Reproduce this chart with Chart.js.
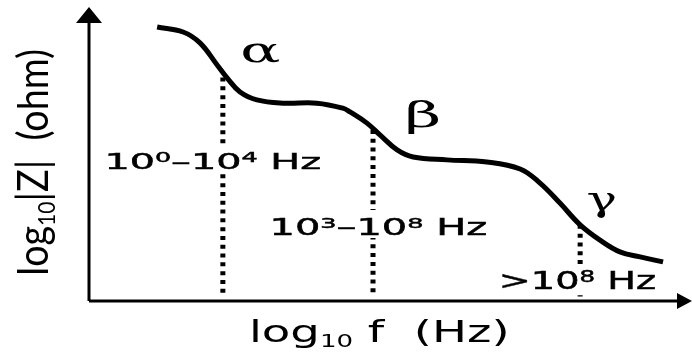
<!DOCTYPE html>
<html>
<head>
<meta charset="utf-8">
<script src="https://cdn.jsdelivr.net/npm/chart.js@4.4.1/dist/chart.umd.min.js"></script>
<style>
  html, body { margin: 0; padding: 0; background: #fff; }
  canvas { display: block; }
</style>
</head>
<body>
<canvas id="impedanceChart" width="692" height="352"></canvas>
<script>
// schematic |Z| spectrum, both axes in arbitrary log units
const logF = [2.26, 3.12, 3.68, 4.25, 4.58, 5.01, 5.57, 6.43, 7.56, 8.42, 8.66, 9.22, 9.65,
              10.22, 10.75, 11.87, 13.20, 14.30, 14.96, 15.62, 16.29, 16.95, 17.61, 18.28, 19.04];
const logZ = [9.32, 9.15, 8.78, 8.03, 7.59, 7.11, 6.84, 6.73, 6.73, 6.56, 6.43, 6.05, 5.65,
              5.14, 4.90, 4.80, 4.73, 4.49, 4.01, 3.33, 2.59, 2.07, 1.67, 1.50, 1.33];

// relaxation regions
const relaxNames = ['α', 'β', 'γ'];
const relaxF = [4.44, 9.42, 16.29];
const relaxZ = [7.60, 5.82, 2.59];
const rangeLabels = ['10⁰–10⁴ Hz', '10³–10⁸ Hz', '>10⁸ Hz'];

const xTitle = 'log₁₀ f  (Hz)';
const yTitle = 'log₁₀|Z|  (ohm)';

const SUP = '⁰¹²³⁴⁵⁶⁷⁸⁹';
const SUB = '₀₁₂₃₄₅₆₇₈₉';

function toRuns(str) {
    const runs = [];
    for (const ch of str) {
        let kind = 'n', c = ch;
        if (SUP.includes(ch)) { kind = 'sup'; c = String(SUP.indexOf(ch)); }
        else if (SUB.includes(ch)) { kind = 'sub'; c = String(SUB.indexOf(ch)); }
        const last = runs[runs.length - 1];
        if (last && last.kind === kind) last.t += c;
        else runs.push({ kind, t: c });
    }
    return runs;
}

// draws text stretched so its ink spans left..right on the given baseline
function drawText(ctx, str, o) {
    const runs = toRuns(str);
    const sizeOf = r => r.kind === 'sup' ? o.size * 0.64 : r.kind === 'sub' ? o.size * 0.56 : o.size;
    const dyOf = r => r.kind === 'sup' ? -o.size * 0.3 : r.kind === 'sub' ? o.size * 0.17 : 0;
    let pos = 0, inkLeft = 0, inkRight = 0;
    runs.forEach((r, i) => {
        ctx.font = `${sizeOf(r)}px ${o.family}`;
        const m = ctx.measureText(r.t);
        r.x = pos;
        if (i === 0) inkLeft = -m.actualBoundingBoxLeft;
        if (i === runs.length - 1) inkRight = pos + m.actualBoundingBoxRight;
        pos += m.width;
    });
    const sx = (o.right - o.left) / (inkRight - inkLeft);
    if (o.box) {
        ctx.fillStyle = '#fff';
        ctx.fillRect(o.left - 4, o.baseline - o.box[0], o.right - o.left + 8, o.box[0] + o.box[1]);
    }
    ctx.save();
    ctx.translate(o.left - inkLeft * sx, o.baseline);
    ctx.scale(sx, 1);
    ctx.fillStyle = '#000';
    ctx.strokeStyle = '#000';
    ctx.lineWidth = o.stroke || 0;
    ctx.textBaseline = 'alphabetic';
    runs.forEach(r => {
        ctx.font = `${sizeOf(r)}px ${o.family}`;
        ctx.fillText(r.t, r.x, dyOf(r));
        if (o.stroke) ctx.strokeText(r.t, r.x, dyOf(r));
    });
    ctx.restore();
}

const rangePlacement = [
    { left: 108, right: 320, baseline: 169, size: 22 },
    { left: 273, right: 487, baseline: 235, size: 23 },
    { left: 502, right: 655, baseline: 289, size: 24 }
];
const greekPlacement = [
    { left: 242, right: 280, baseline: 62 },
    { left: 408, right: 438, baseline: 127 },
    { left: 588, right: 615, baseline: 211 }
];

const annotations = {
    id: 'annotations',
    beforeDatasetDraw(chart, args) {
        // range labels sit on top of the drop lines, under the curve
        if (args.index !== 0) return;
        const ctx = chart.ctx;
        rangeLabels.forEach((t, i) => {
            drawText(ctx, t, Object.assign({ family: '"DejaVu Sans"', box: [25, 3], stroke: 0.5 }, rangePlacement[i]));
        });
    },
    afterDatasetsDraw(chart) {
        const ctx = chart.ctx;
        const { left, right, top, bottom } = chart.chartArea;

        // axes with arrow heads
        ctx.save();
        ctx.strokeStyle = '#000';
        ctx.fillStyle = '#000';
        ctx.lineWidth = 3;
        ctx.beginPath();
        ctx.moveTo(left, bottom);
        ctx.lineTo(right - 12, bottom);
        ctx.moveTo(left, bottom);
        ctx.lineTo(left, top + 14);
        ctx.stroke();
        ctx.beginPath();
        ctx.moveTo(right, bottom);
        ctx.lineTo(right - 15, bottom - 8);
        ctx.lineTo(right - 15, bottom + 8);
        ctx.closePath();
        ctx.fill();
        ctx.beginPath();
        ctx.moveTo(left, top);
        ctx.lineTo(left - 13, top + 16);
        ctx.lineTo(left + 13, top + 16);
        ctx.closePath();
        ctx.fill();
        ctx.restore();

        relaxNames.forEach((t, i) => {
            drawText(ctx, t, Object.assign({ family: '"DejaVu Serif"', size: 36 }, greekPlacement[i]));
        });

        drawText(ctx, xTitle, { family: '"DejaVu Sans"', size: 30, left: 252, right: 507, baseline: 342 });

        ctx.save();
        ctx.translate(48, 273);
        ctx.rotate(-Math.PI / 2);
        drawText(ctx, yTitle, { family: 'Lato', size: 42, left: 0, right: 223, baseline: 0 });
        ctx.restore();
    }
};

const curve = logF.map((f, i) => ({ x: f, y: logZ[i] }));

const dropLines = relaxF.map((f, i) => ({
    data: [{ x: f, y: relaxZ[i] }, { x: f, y: 0.15 }],
    borderColor: '#000',
    borderWidth: 5,
    borderDash: [4, 4.8],
    borderCapStyle: 'butt',
    pointRadius: 0
}));

new Chart(document.getElementById('impedanceChart'), {
    type: 'line',
    data: {
        datasets: [{
            data: curve,
            borderColor: '#000',
            borderWidth: 5,
            tension: 0.4,
            pointRadius: 0
        }].concat(dropLines)
    },
    options: {
        responsive: false,
        animation: false,
        devicePixelRatio: 1,
        layout: { padding: { left: 89, right: 0, top: 7, bottom: 51 } },
        scales: {
            x: { type: 'linear', min: 0, max: 20, display: false },
            y: { type: 'linear', min: 0, max: 10, display: false }
        },
        plugins: {
            legend: { display: false },
            tooltip: { enabled: false }
        }
    },
    plugins: [annotations]
});
</script>
</body>
</html>
